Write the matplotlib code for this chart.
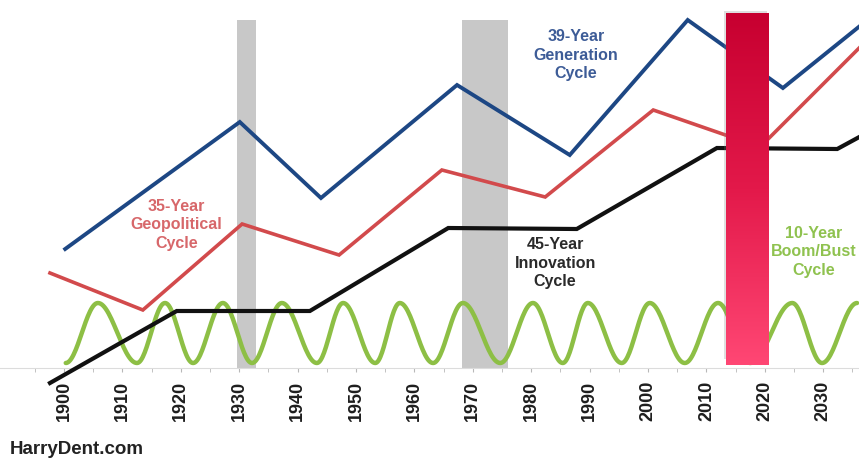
import numpy as np
import matplotlib
matplotlib.use("Agg")
import matplotlib.pyplot as plt
from matplotlib.colors import LinearSegmentedColormap
from matplotlib.patches import Rectangle

plt.rcParams['font.family'] = ['Liberation Sans', 'DejaVu Sans']

# ---------------- data ----------------
tick_years = list(range(1900, 2031, 10))

gen_years = [1900.2, 1930.1, 1944.0, 1967.3, 1986.6, 2006.8, 2023.1, 2036.5]
gen_vals = [119, 246, 170, 283, 213, 348, 280, 343]

geo_years = [1897.6, 1913.5, 1930.5, 1947.1, 1964.7, 1982.4, 2000.9, 2019.2, 2036.5]
geo_vals = [95, 58, 144, 113, 198, 171, 258, 221, 322]

inn_years = [1897.6, 1919.3, 1942.1, 1965.8, 1987.8, 2011.8, 2032.4, 2036.5]
inn_vals = [-15, 57, 57, 140, 139, 220, 219, 232]

# 10-year boom/bust cycle: alternating troughs and peaks
boom_years = [1900.3, 1905.8, 1912.5, 1917.3, 1922.1, 1927.2, 1932.2, 1937.3,
              1943.3, 1947.8, 1953.3, 1957.5, 1963.2, 1968.3, 1974.7, 1980.3,
              1985.4, 1989.7, 1995.5, 2000.3, 2006.3, 2012.0, 2017.5, 2024.7,
              2029.8, 2035.8]
boom_vals = [5, 65] * 13

grey_starts = [1929.6, 1968.2]
grey_ends = [1932.9, 1976.0]
grey_top = 348

red_start, red_end = 2013.4, 2020.7
red_bottom, red_top = 3, 355

# ---------------- figure ----------------
fig = plt.figure(figsize=(8.59, 4.63), dpi=100)
ax = fig.add_axes([0, 1 - 390 / 463, 1, 390 / 463])
x0 = 1900 - 64 / 5.84
x1 = 1900 + 795 / 5.84
ax.set_xlim(x0, x1)
ax.set_ylim(-22, 368)

for s in ['top', 'right', 'left']:
    ax.spines[s].set_visible(False)
ax.spines['bottom'].set_position(('data', 0))
ax.spines['bottom'].set_color('#dcdcdc')
ax.spines['bottom'].set_linewidth(0.8)
ax.set_yticks([])
ax.set_xticks(tick_years)
ax.set_xticklabels([str(y) for y in tick_years], rotation=90,
                   fontsize=13, fontweight='bold', color='#1e1e1e')
ax.set_xticks(list(range(1895, 2036, 5)), minor=True)
ax.tick_params(axis='x', which='both', length=3, color='#b8b8b8',
               pad=6, direction='out')

# grey bars
for gs, ge in zip(grey_starts, grey_ends):
    ax.bar(gs, grey_top, width=ge - gs, align='edge', bottom=0,
           color='#c8c8c8', zorder=1, linewidth=0)

# boom/bust curve: half-cosine segments between extrema
bx, by = [], []
for i in range(len(boom_years) - 1):
    xa, xb = boom_years[i], boom_years[i + 1]
    ya, yb = boom_vals[i], boom_vals[i + 1]
    t = np.linspace(0, 1, 30)
    bx.extend(xa + (xb - xa) * t)
    by.extend(ya + (yb - ya) * (1 - np.cos(np.pi * t)) / 2)
ax.plot(bx, by, color='#8dbf45', lw=3.2, zorder=3, solid_capstyle='round')

ax.plot(inn_years, inn_vals, color='#111111', lw=3.0, zorder=4,
        solid_joinstyle='miter')
ax.plot(geo_years, geo_vals, color='#d24a4c', lw=2.6, zorder=4,
        solid_joinstyle='miter')
ax.plot(gen_years, gen_vals, color='#1d4784', lw=2.8, zorder=4,
        solid_joinstyle='miter')

# labels
tkw = dict(ha='center', va='center', fontsize=11.5, fontweight='bold',
           linespacing=1.3, multialignment='center')
ax.text(1987.7, 313, '39-Year\nGeneration\nCycle', color='#3d5c97', zorder=5, **tkw)
ax.text(1919.3, 143, '35-Year\nGeopolitical\nCycle', color='#d7676a', zorder=5, **tkw)
ax.text(1984.1, 105, '45-Year\nInnovation\nCycle', color='#2a2a2a', zorder=5, **tkw)
ax.text(2028.3, 116, '10-Year\nBoom/Bust\nCycle', color='#8fc24f', zorder=5, **tkw)

# red highlight bar with shadow and gradient
ax.add_patch(Rectangle((red_start - 0.4, red_bottom + 6), red_end - red_start,
                       red_top - red_bottom - 4, facecolor='#808080', alpha=0.25,
                       edgecolor='none', zorder=6))
cmap = LinearSegmentedColormap.from_list('rb', ['#c70030', '#e3194a', '#ff4774'])
grad = np.linspace(0, 1, 256).reshape(-1, 1)
ax.imshow(grad, cmap=cmap, aspect='auto', origin='upper',
          extent=[red_start, red_end, red_bottom, red_top], zorder=7)
ax.set_xlim(x0, x1)
ax.set_ylim(-22, 368)

fig.text(10 / 859, 1 - 449 / 463, 'HarryDent.com', fontsize=13.5,
         fontweight='bold', color='#222222', ha='left', va='center')

fig.savefig('out.png', dpi=100)
